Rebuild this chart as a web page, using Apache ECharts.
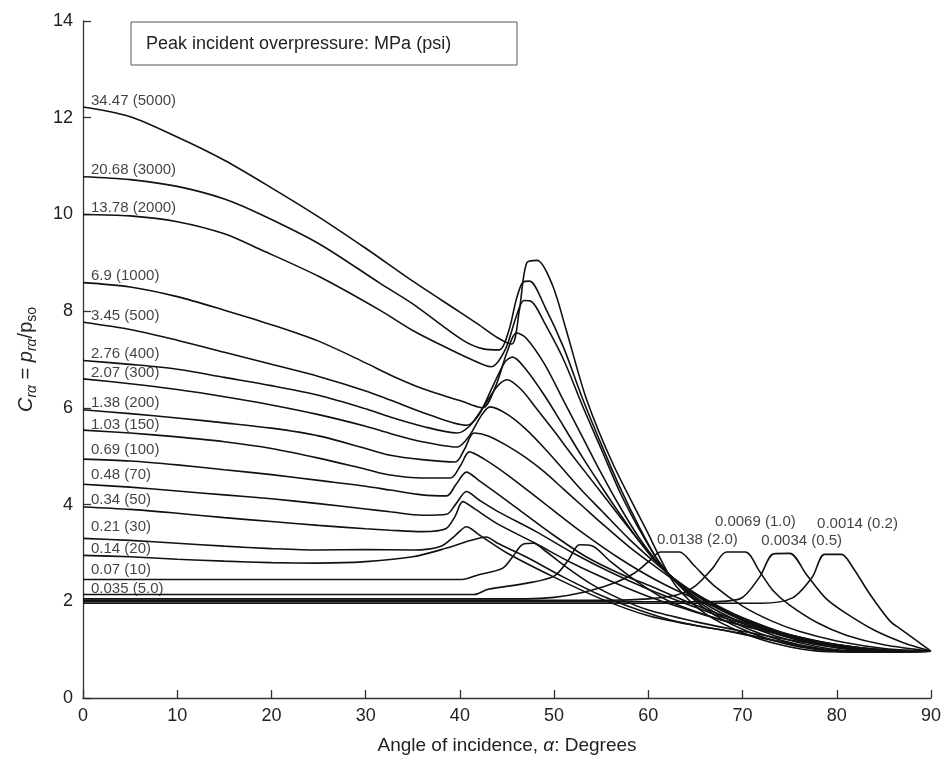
<!DOCTYPE html>
<html>
<head>
<meta charset="utf-8">
<script src="https://cdn.jsdelivr.net/npm/echarts@6/dist/echarts.min.js"></script>
<style>
  html, body { margin: 0; padding: 0; background: #fff; }
  #chart { width: 944px; height: 762px; }
</style>
</head>
<body>
<div id="chart"></div>
<script>
/*
 * reflected pressure coefficient vs angle of incidence
 * values, [angle, Cra]
 */
var xTicks = [0, 10, 20, 30, 40, 50, 60, 70, 80, 90];
var yTicks = [0, 2, 4, 6, 8, 10, 12, 14];

var curveLabels = ['34.47 (5000)', '20.68 (3000)', '13.78 (2000)', '6.9 (1000)', '3.45 (500)',
    '2.76 (400)', '2.07 (300)', '1.38 (200)', '1.03 (150)', '0.69 (100)', '0.48 (70)',
    '0.34 (50)', '0.21 (30)', '0.14 (20)', '0.07 (10)', '0.035 (5.0)',
    '0.0138 (2.0)', '0.0069 (1.0)', '0.0034 (0.5)', '0.0014 (0.2)'];

var p5000 = [[0,12.22],[5,12.02],[10,11.6],[15,11.12],[20,10.55],[25,9.95],[30,9.3],[35,8.62],[40,7.98],[42,7.72],[44,7.45],[45.5,7.32],[46.3,8.0],[47.1,9.0],[48.2,9.05],[49.8,8.55],[51.3,7.6],[53.4,6.2],[56.2,4.86],[59.8,3.47],[61.5,2.8],[63,2.3],[66,1.75],[70,1.35],[74,1.1],[78,0.97],[84,0.95],[90,0.97]];
var p3000 = [[0,10.78],[5,10.72],[10,10.58],[15,10.32],[19,9.99],[25,9.4],[31.5,8.58],[35,8.15],[40.3,7.4],[42.5,7.22],[44.2,7.2],[45.2,7.6],[46,8.25],[46.7,8.6],[47.4,8.62],[49,8.1],[51,7.25],[53,6.2],[55,5.25],[57,4.35],[59,3.55],[61,2.85],[63,2.38],[66,1.85],[70,1.42],[74,1.15],[78,1.0],[82,0.95],[90,0.97]];
var p2000 = [[0,10.0],[5,9.97],[10,9.85],[15,9.6],[19,9.26],[25,8.72],[31.5,8.02],[35,7.6],[38,7.3],[41,7.02],[43.3,6.85],[44.8,7.2],[46,7.9],[46.8,8.22],[47.6,8.2],[49,7.75],[51,7.0],[53,6.05],[55,5.15],[57,4.25],[59,3.5],[61,2.85],[63,2.4],[66,1.9],[70,1.48],[74,1.2],[78,1.03],[82,0.96],[90,0.97]];
var p1000 = [[0,8.59],[5,8.5],[10,8.3],[15,8.02],[20,7.72],[25,7.38],[30,6.93],[32.6,6.68],[36,6.4],[40,6.15],[42.4,6.0],[43.8,6.45],[45,7.15],[46,7.55],[47,7.45],[49,6.9],[51,6.15],[53,5.4],[55,4.65],[57,3.95],[59,3.32],[61,2.8],[63,2.4],[66,1.95],[70,1.55],[74,1.25],[78,1.06],[82,0.97],[90,0.97]];
var p500 = [[0,7.77],[5,7.62],[10,7.4],[15,7.15],[20,6.9],[25,6.65],[30,6.35],[32.6,6.16],[36.8,5.85],[40.7,5.64],[42,5.85],[43.5,6.45],[44.8,6.95],[45.6,7.05],[47,6.8],[49,6.25],[51,5.62],[53,4.98],[55,4.38],[57,3.8],[59,3.25],[61,2.78],[63,2.42],[66,2.0],[70,1.6],[74,1.3],[78,1.1],[82,0.99],[86,0.96],[90,0.97]];
var p400 = [[0,6.98],[5,6.9],[10,6.8],[15,6.63],[20,6.46],[25,6.26],[30,5.98],[32.6,5.81],[36,5.62],[39.7,5.48],[41,5.62],[42.5,6.02],[44,6.45],[45,6.58],[46.5,6.38],[48,6.02],[50,5.52],[52,5.0],[55,4.25],[58,3.5],[61,2.78],[63,2.42],[66,2.02],[70,1.62],[74,1.32],[78,1.12],[82,1.0],[86,0.96],[90,0.97]];
var p300 = [[0,6.6],[5,6.5],[10,6.38],[15,6.23],[20,6.06],[25,5.86],[30,5.62],[32.6,5.47],[36,5.3],[39.7,5.19],[41,5.42],[42.3,5.85],[43.2,6.02],[45,5.87],[47,5.56],[49,5.16],[51,4.72],[53,4.28],[55,3.88],[58,3.28],[61,2.75],[63,2.43],[66,2.04],[70,1.64],[74,1.34],[78,1.14],[82,1.02],[86,0.97],[90,0.97]];
var p200 = [[0,5.96],[5,5.88],[10,5.79],[15,5.69],[20,5.58],[25,5.42],[30,5.16],[32.6,5.02],[36,4.93],[39.5,4.88],[40.5,5.15],[41.5,5.48],[43,5.42],[45,5.22],[47,4.97],[49,4.67],[51,4.32],[53,3.97],[55,3.62],[58,3.12],[61,2.68],[63,2.4],[66,2.05],[70,1.66],[74,1.36],[78,1.16],[82,1.04],[86,0.98],[90,0.97]];
var p150 = [[0,5.54],[5,5.48],[10,5.4],[15,5.3],[20,5.16],[25,4.96],[30,4.73],[32.6,4.61],[36,4.55],[39,4.55],[40.1,4.82],[41,5.09],[42.5,4.95],[45,4.62],[49,4.02],[53,3.42],[57,2.88],[61,2.42],[65,2.05],[70,1.66],[74,1.37],[78,1.17],[82,1.04],[86,0.98],[90,0.97]];
var p100 = [[0,4.94],[5,4.9],[10,4.82],[15,4.72],[20,4.62],[25,4.5],[30,4.38],[32.6,4.3],[36,4.2],[38.6,4.18],[39.6,4.42],[40.7,4.67],[42,4.5],[44,4.22],[46.3,3.89],[50,3.36],[53.4,2.92],[57,2.57],[60.4,2.3],[64,2.0],[68,1.7],[73,1.4],[78,1.18],[82,1.05],[86,0.98],[90,0.97]];
var p70 = [[0,4.42],[5,4.36],[10,4.28],[15,4.2],[20,4.12],[25,4.02],[30,3.91],[32.6,3.85],[36,3.78],[38.6,3.8],[39.6,4.02],[40.7,4.27],[42,4.1],[44,3.86],[48,3.45],[52,3.0],[56,2.6],[60,2.25],[64,1.95],[68,1.66],[73,1.38],[78,1.17],[82,1.05],[86,0.98],[90,0.97]];
var p50 = [[0,3.95],[5,3.9],[10,3.82],[15,3.73],[20,3.65],[25,3.57],[30,3.5],[32.6,3.47],[36,3.44],[38.5,3.5],[39.5,3.76],[40.3,4.06],[41.5,3.92],[44,3.6],[48,3.2],[52,2.78],[56,2.42],[60,2.1],[64,1.84],[68,1.6],[73,1.36],[78,1.16],[82,1.04],[86,0.98],[90,0.97]];
var p30 = [[0,3.3],[5,3.26],[10,3.2],[15,3.14],[20,3.09],[25,3.06],[30,3.07],[35,3.06],[38,3.14],[39.5,3.36],[40.7,3.54],[42,3.38],[45,3.0],[50,2.5],[55,2.05],[60,1.7],[65,1.5],[70,1.33],[75,1.13],[80,0.97],[85,0.95],[90,0.97]];
var p20 = [[0,2.95],[5,2.92],[10,2.87],[15,2.83],[20,2.8],[25,2.79],[30,2.82],[35,2.92],[38.6,3.1],[41,3.25],[42.8,3.33],[44,3.2],[47,2.92],[51,2.5],[55,2.12],[59,1.82],[63,1.58],[68,1.4],[73,1.2],[78,1.02],[84,0.96],[90,0.97]];
var p10 = [[0,2.45],[40.2,2.45],[42,2.55],[44.5,2.68],[45.6,2.92],[46.7,3.18],[47.8,3.2],[49,3.05],[51,2.75],[54,2.35],[57,2.05],[60,1.82],[65,1.58],[70,1.38],[75,1.2],[80,1.05],[85,0.98],[90,0.97]];
var p5 = [[0,2.14],[41.5,2.14],[43,2.25],[47,2.37],[50,2.52],[51.5,2.85],[52.7,3.17],[54,3.15],[56,2.82],[59,2.38],[62,2.02],[66,1.72],[70,1.5],[75,1.27],[80,1.1],[85,1.0],[90,0.97]];
var p2 = [[0,2.05],[47,2.05],[50,2.08],[53,2.18],[56,2.35],[58.5,2.58],[60.2,2.85],[61.3,3.02],[63.3,3.02],[64.8,2.75],[67,2.32],[70,1.9],[73,1.6],[76,1.38],[80,1.18],[84,1.05],[87,0.99],[90,0.97]];
var p1 = [[0,2.02],[56,2.02],[60,2.05],[63,2.13],[65,2.32],[66.8,2.68],[68.3,3.02],[70.3,3.02],[71.8,2.62],[73.2,2.23],[75,1.92],[78,1.55],[81,1.3],[85,1.1],[90,0.97]];
var p05 = [[0,1.99],[66,1.99],[69.7,2.05],[71.8,2.5],[73.3,2.98],[75,2.99],[76.8,2.55],[78.9,2.05],[81,1.75],[84,1.4],[87,1.15],[90,0.97]];
var p02 = [[0,1.96],[72,1.96],[75.3,2.07],[77.4,2.5],[78.7,2.97],[80.5,2.97],[81.7,2.7],[83.5,2.15],[85.6,1.6],[86.6,1.45],[90,0.97]];

var curves = [p5000, p3000, p2000, p1000, p500, p400, p300, p200, p150, p100, p70,
    p50, p30, p20, p10, p5, p2, p1, p05, p02];

// which point each label hangs on, and how far it is pushed
// the four small pressures are labelled at their peak
var labelAt = [0,0,0,0,0, 0,0,0,0,0,0, 0,0,0,0,0, 8,7,5,5];
var labelShift = [
    [8,1],[8,1],[8,1],[8,1],[8,1],[8,1],[8,2],[8,1],[8,2],[8,-2],[8,-2],
    [8,0],[8,-4],[8,1],[8,-2],[8,2],
    [18,0],[10,-18],[12,0],[16,-18]
];

var chart = echarts.init(document.getElementById('chart'), null, {renderer: 'canvas'});

var series = [];
var labelPts = [];
curves.forEach(function(c, i){
    series.push({
        type: 'line',
        data: c,
        showSymbol: false,
        smooth: 0.3,
        silent: true,
        z: 2,
        lineStyle: {color: '#111', width: 1.6}
    });
    var small = i >= 16;
    labelPts.push({
        value: c[labelAt[i]],
        label: {
            show: true,
            formatter: curveLabels[i],
            position: 'top',
            align: small ? 'center' : 'left',
            distance: small ? 5 : 0,
            offset: labelShift[i],
            fontSize: 15,
            color: '#111',
            fontFamily: 'Liberation Sans, Arial, sans-serif'
        }
    });
});
series.push({
    type: 'scatter',
    data: labelPts,
    symbolSize: 0,
    silent: true,
    z: 5
});

var font = 'Liberation Sans, Arial, sans-serif';

var option = {
    animation: false,
    backgroundColor: '#fff',
    grid: {left: 83, right: 12, top: 21, bottom: 64},
    xAxis: {
        type: 'value',
        min: 0, max: 90, interval: 10,
        name: '{n|Angle of incidence, }{i|α}{n|: Degrees}',
        nameLocation: 'middle',
        nameGap: 38,
        nameTextStyle: {
            rich: {
                n: {fontSize: 19, color: '#222', fontFamily: font},
                i: {fontSize: 19, color: '#222', fontStyle: 'italic', fontFamily: font}
            }
        },
        axisLine: {lineStyle: {color: '#333', width: 1.3}},
        axisTick: {inside: true, length: 8, lineStyle: {color: '#333', width: 1.3}},
        axisLabel: {fontSize: 18, color: '#222', margin: 9, fontFamily: font,
            formatter: function(v){ return xTicks.indexOf(v) >= 0 ? String(v) : ''; }},
        splitLine: {show: false}
    },
    yAxis: {
        type: 'value',
        min: 0, max: 14, interval: 2,
        name: '{i|C}{si|rα}{n| = }{i|p}{si|rα}{n|/p}{s|so}',
        nameLocation: 'middle',
        nameRotate: 90,
        nameGap: 44,
        nameTextStyle: {
            rich: {
                n: {fontSize: 20, color: '#222', lineHeight: 26, fontFamily: font},
                i: {fontSize: 20, color: '#222', lineHeight: 26, fontStyle: 'italic', fontFamily: font},
                si: {fontSize: 14, color: '#222', lineHeight: 15, fontStyle: 'italic', verticalAlign: 'bottom', fontFamily: font},
                s: {fontSize: 14, color: '#222', lineHeight: 15, verticalAlign: 'bottom', fontFamily: font}
            }
        },
        axisLine: {show: true, lineStyle: {color: '#333', width: 1.3}},
        axisTick: {show: true, inside: true, length: 8, lineStyle: {color: '#333', width: 1.3}},
        axisLabel: {fontSize: 18, color: '#222', margin: 10, fontFamily: font,
            formatter: function(v){ return yTicks.indexOf(v) >= 0 ? String(v) : ''; }},
        splitLine: {show: false}
    },
    graphic: [{
        type: 'rect',
        shape: {x: 131, y: 22, width: 386, height: 43},
        style: {fill: '#fff', stroke: '#555', lineWidth: 1},
        z: 10
    }, {
        type: 'text',
        x: 146, y: 44,
        style: {
            text: 'Peak incident overpressure: MPa (psi)',
            fontSize: 18,
            fill: '#222',
            fontFamily: font,
            verticalAlign: 'middle'
        },
        z: 11
    }],
    series: series
};

chart.setOption(option);
</script>
</body>
</html>
